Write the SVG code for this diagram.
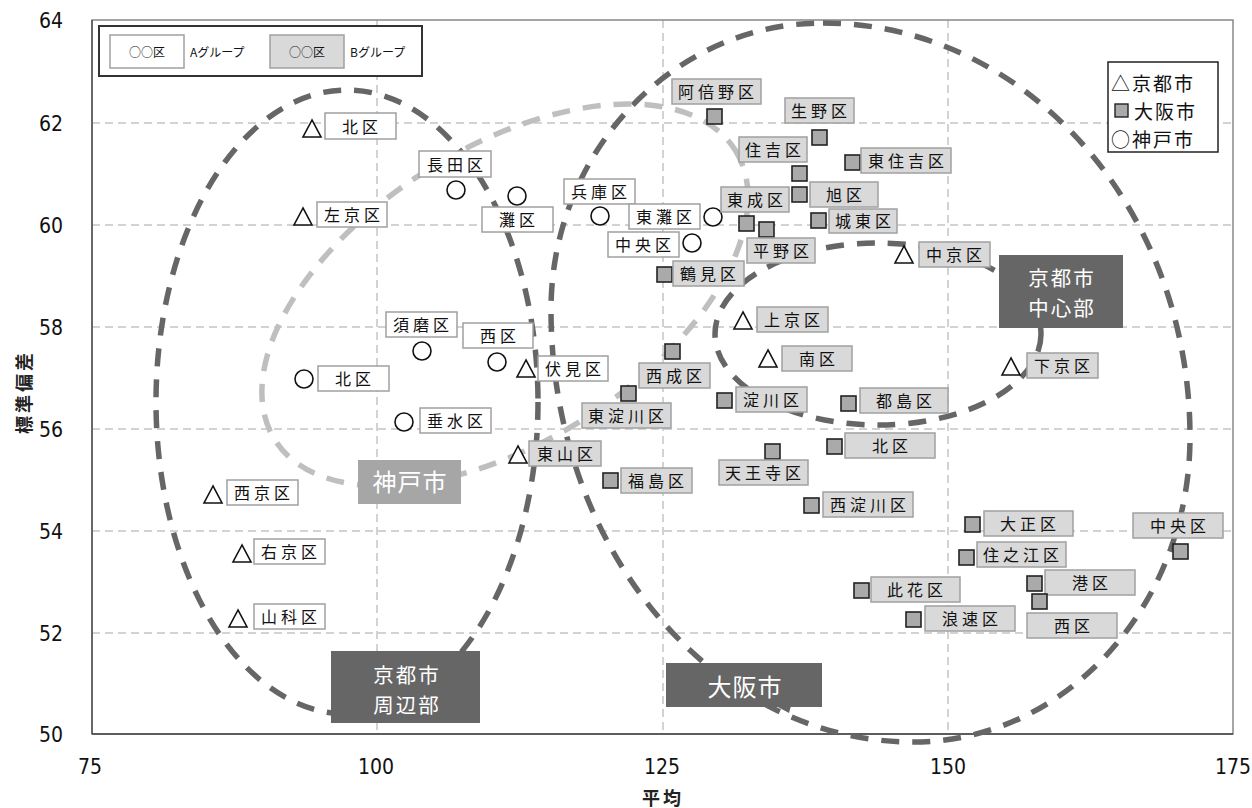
<svg xmlns="http://www.w3.org/2000/svg" width="1252" height="808" viewBox="0 0 1252 808">
<style>
.grid{stroke:#a6a6a6;stroke-width:1;stroke-dasharray:8 5;fill:none}
.dk{fill:none;stroke:#666;stroke-width:5.5;stroke-dasharray:18 13}
.lg{fill:none;stroke:#bfbfbf;stroke-width:5.5;stroke-dasharray:18 13}
.bw{fill:#fff;stroke:#a0a0a0;stroke-width:1.5}
.bg{fill:#d9d9d9;stroke:#a0a0a0;stroke-width:1.5}
.t{font-family:'Noto Sans CJK JP',sans-serif;font-size:16px;letter-spacing:4px;text-anchor:middle;fill:#111}
.tri,.cir{fill:#fff;stroke:#111;stroke-width:1.6}
.sq{fill:#aaa;stroke:#222;stroke-width:1.6}
.rg{fill:#666}
.rt{font-family:'Noto Sans CJK JP',sans-serif;font-size:24px;fill:#fff;text-anchor:middle;letter-spacing:1px}
.rt2{font-family:'Noto Sans CJK JP',sans-serif;font-size:20.5px;fill:#fff;text-anchor:middle;letter-spacing:2px}
.tk{font-family:'Liberation Sans Narrow','DejaVu Sans Condensed','Liberation Sans',sans-serif;font-size:21px;fill:#111}
.ax{font-family:'Noto Sans CJK JP',sans-serif;font-size:18px;font-weight:bold;fill:#222;letter-spacing:3px}
.sm{font-family:'Noto Sans CJK JP',sans-serif;font-size:12px;fill:#111}
.lgt{font-family:'Noto Sans CJK JP',sans-serif;font-size:19px;fill:#111;letter-spacing:2px}
</style>
<rect width="1252" height="808" fill="#fff"/>
<g id="grid">
<line class="grid" x1="377" y1="20" x2="377" y2="734"/>
<line class="grid" x1="663" y1="20" x2="663" y2="734"/>
<line class="grid" x1="948" y1="20" x2="948" y2="734"/>
<line class="grid" x1="92" y1="123" x2="1233" y2="123"/>
<line class="grid" x1="92" y1="225" x2="1233" y2="225"/>
<line class="grid" x1="92" y1="327" x2="1233" y2="327"/>
<line class="grid" x1="92" y1="429" x2="1233" y2="429"/>
<line class="grid" x1="92" y1="531" x2="1233" y2="531"/>
<line class="grid" x1="92" y1="633" x2="1233" y2="633"/>
<rect x="92" y="20" width="1141" height="714" fill="none" stroke="#888" stroke-width="1.5"/>
<line x1="92" y1="20" x2="92" y2="734" stroke="#555" stroke-width="1.5"/>
<line x1="92" y1="734" x2="1233" y2="734" stroke="#444" stroke-width="1.5"/>
</g>
<g id="axes">
<text class="tk" x="63" y="28" text-anchor="end">64</text>
<text class="tk" x="63" y="131" text-anchor="end">62</text>
<text class="tk" x="63" y="233" text-anchor="end">60</text>
<text class="tk" x="63" y="335" text-anchor="end">58</text>
<text class="tk" x="63" y="437" text-anchor="end">56</text>
<text class="tk" x="63" y="539" text-anchor="end">54</text>
<text class="tk" x="63" y="641" text-anchor="end">52</text>
<text class="tk" x="63" y="742" text-anchor="end">50</text>
<text class="tk" x="90" y="774" text-anchor="middle">75</text>
<text class="tk" x="376" y="774" text-anchor="middle">100</text>
<text class="tk" x="662" y="774" text-anchor="middle">125</text>
<text class="tk" x="948" y="774" text-anchor="middle">150</text>
<text class="tk" x="1233" y="774" text-anchor="middle">175</text>
<text class="ax" x="663" y="805" text-anchor="middle">平均</text>
<text class="ax" x="31" y="392" text-anchor="middle" transform="rotate(-90 31 392)">標準偏差</text>
</g>
<g id="connectors">
<ellipse class="dk" cx="347" cy="402" rx="191" ry="312"/>
<path class="dk" d="M823,23 C1026,23 1190,208 1190,437 C1190,605 1066,742 913,742 C713,742 551,548 551,310 C551,152 673,23 823,23 Z"/>
<ellipse class="lg" cx="505" cy="295" rx="272" ry="147" transform="rotate(-32.2 505 295)"/>
<ellipse class="dk" cx="878" cy="334" rx="163" ry="91"/>
</g>
<!-- Kyoto -->
<g id="kyoto-kita"><polygon class="tri" points="312,120 303,137 321,137"/><rect class="bw" x="325" y="113" width="71" height="26"/><text class="t" x="362" y="133">北区</text></g>
<g id="kyoto-sakyo"><polygon class="tri" points="303,208 294,225 312,225"/><rect class="bw" x="317" y="202" width="70" height="25"/><text class="t" x="354" y="221">左京区</text></g>
<g id="kyoto-nishikyo"><polygon class="tri" points="213,486 204,503 222,503"/><rect class="bw" x="227" y="480" width="71" height="25"/><text class="t" x="264" y="499">西京区</text></g>
<g id="kyoto-ukyo"><polygon class="tri" points="242,545 233,562 251,562"/><rect class="bw" x="254" y="539" width="71" height="25"/><text class="t" x="291" y="558">右京区</text></g>
<g id="kyoto-yamashina"><polygon class="tri" points="238,610 229,627 247,627"/><rect class="bw" x="254" y="604" width="71" height="25"/><text class="t" x="291" y="623">山科区</text></g>
<g id="kyoto-fushimi"><polygon class="tri" points="526,360 517,377 535,377"/><rect class="bw" x="538" y="356" width="70" height="25"/><text class="t" x="575" y="375">伏見区</text></g>
<g id="kyoto-higashiyama"><polygon class="tri" points="518,446 509,463 527,463"/><rect class="bg" x="529" y="441" width="72" height="25"/><text class="t" x="567" y="460">東山区</text></g>
<g id="kyoto-kamigyo"><polygon class="tri" points="743,312 734,329 752,329"/><rect class="bg" x="757" y="307" width="71" height="25"/><text class="t" x="794" y="326">上京区</text></g>
<g id="kyoto-minami"><polygon class="tri" points="768,350 759,367 777,367"/><rect class="bg" x="782" y="346" width="70" height="25"/><text class="t" x="819" y="365">南区</text></g>
<g id="kyoto-nakagyo"><polygon class="tri" points="904,246 895,263 913,263"/><rect class="bg" x="919" y="242" width="71" height="25"/><text class="t" x="956" y="261">中京区</text></g>
<g id="kyoto-shimogyo"><polygon class="tri" points="1011,358 1002,375 1020,375"/><rect class="bg" x="1027" y="353" width="71" height="25"/><text class="t" x="1064" y="372">下京区</text></g>
<!-- Kobe -->
<g id="kobe-nagata"><circle class="cir" cx="456" cy="190" r="9"/><rect class="bw" x="419" y="151" width="72" height="26"/><text class="t" x="457" y="171">長田区</text></g>
<g id="kobe-nada"><circle class="cir" cx="517" cy="196" r="9"/><rect class="bw" x="482" y="207" width="71" height="25"/><text class="t" x="519" y="226">灘区</text></g>
<g id="kobe-hyogo"><circle class="cir" cx="600" cy="216" r="9"/><rect class="bw" x="564" y="179" width="71" height="25"/><text class="t" x="601" y="198">兵庫区</text></g>
<g id="kobe-higashinada"><circle class="cir" cx="713" cy="217" r="9"/><rect class="bw" x="629" y="204" width="71" height="25"/><text class="t" x="666" y="223">東灘区</text></g>
<g id="kobe-chuo"><circle class="cir" cx="692" cy="243" r="9"/><rect class="bw" x="608" y="232" width="71" height="25"/><text class="t" x="645" y="251">中央区</text></g>
<g id="kobe-suma"><circle class="cir" cx="422" cy="351" r="9"/><rect class="bw" x="386" y="312" width="71" height="25"/><text class="t" x="423" y="331">須磨区</text></g>
<g id="kobe-nishi"><circle class="cir" cx="497" cy="362" r="9"/><rect class="bw" x="463" y="323" width="70" height="25"/><text class="t" x="500" y="342">西区</text></g>
<g id="kobe-kita"><circle class="cir" cx="304" cy="379" r="9"/><rect class="bw" x="318" y="366" width="71" height="25"/><text class="t" x="355" y="385">北区</text></g>
<g id="kobe-tarumi"><circle class="cir" cx="404" cy="422" r="9"/><rect class="bw" x="420" y="408" width="71" height="25"/><text class="t" x="457" y="427">垂水区</text></g>
<!-- Osaka -->
<g id="osaka-abeno"><rect class="sq" x="707" y="109" width="15" height="15"/><rect class="bg" x="672" y="79" width="89" height="25"/><text class="t" x="718" y="98">阿倍野区</text></g>
<g id="osaka-ikuno"><rect class="sq" x="812" y="130" width="15" height="15"/><rect class="bg" x="785" y="98" width="69" height="25"/><text class="t" x="821" y="117">生野区</text></g>
<g id="osaka-sumiyoshi"><rect class="sq" x="792" y="166" width="15" height="15"/><rect class="bg" x="739" y="137" width="68" height="25"/><text class="t" x="775" y="156">住吉区</text></g>
<g id="osaka-higashisumiyoshi"><rect class="sq" x="845" y="155" width="15" height="15"/><rect class="bg" x="861" y="148" width="90" height="25"/><text class="t" x="908" y="167">東住吉区</text></g>
<g id="osaka-asahi"><rect class="sq" x="792" y="187" width="15" height="15"/><rect class="bg" x="810" y="182" width="68" height="25"/><text class="t" x="846" y="201">旭区</text></g>
<g id="osaka-higashinari"><rect class="sq" x="739" y="216" width="15" height="15"/><rect class="bg" x="721" y="187" width="68" height="25"/><text class="t" x="757" y="206">東成区</text></g>
<g id="osaka-hirano"><rect class="sq" x="759" y="222" width="15" height="15"/><rect class="bg" x="747" y="238" width="68" height="25"/><text class="t" x="783" y="257">平野区</text></g>
<g id="osaka-joto"><rect class="sq" x="811" y="213" width="15" height="15"/><rect class="bg" x="829" y="209" width="68" height="24"/><text class="t" x="865" y="227">城東区</text></g>
<g id="osaka-tsurumi"><rect class="sq" x="657" y="267" width="15" height="15"/><rect class="bg" x="673" y="261" width="71" height="25"/><text class="t" x="710" y="280">鶴見区</text></g>
<g id="osaka-nishinari"><rect class="sq" x="665" y="344" width="15" height="15"/><rect class="bg" x="639" y="363" width="71" height="25"/><text class="t" x="676" y="382">西成区</text></g>
<g id="osaka-higashiyodogawa"><rect class="sq" x="621" y="386" width="15" height="15"/><rect class="bg" x="582" y="403" width="89" height="25"/><text class="t" x="628" y="422">東淀川区</text></g>
<g id="osaka-yodogawa"><rect class="sq" x="717" y="393" width="15" height="15"/><rect class="bg" x="736" y="387" width="71" height="25"/><text class="t" x="773" y="406">淀川区</text></g>
<g id="osaka-miyakojima"><rect class="sq" x="841" y="396" width="15" height="15"/><rect class="bg" x="860" y="388" width="88" height="25"/><text class="t" x="906" y="407">都島区</text></g>
<g id="osaka-kita"><rect class="sq" x="827" y="439" width="15" height="15"/><rect class="bg" x="845" y="433" width="90" height="25"/><text class="t" x="892" y="452">北区</text></g>
<g id="osaka-tennoji"><rect class="sq" x="765" y="444" width="15" height="15"/><rect class="bg" x="719" y="460" width="89" height="25"/><text class="t" x="765" y="479">天王寺区</text></g>
<g id="osaka-fukushima"><rect class="sq" x="603" y="473" width="15" height="15"/><rect class="bg" x="621" y="468" width="71" height="25"/><text class="t" x="658" y="487">福島区</text></g>
<g id="osaka-nishiyodogawa"><rect class="sq" x="804" y="498" width="15" height="15"/><rect class="bg" x="823" y="492" width="90" height="25"/><text class="t" x="870" y="511">西淀川区</text></g>
<g id="osaka-taisho"><rect class="sq" x="965" y="517" width="15" height="15"/><rect class="bg" x="984" y="511" width="89" height="25"/><text class="t" x="1030" y="530">大正区</text></g>
<g id="osaka-suminoe"><rect class="sq" x="959" y="550" width="15" height="15"/><rect class="bg" x="977" y="542" width="89" height="25"/><text class="t" x="1023" y="561">住之江区</text></g>
<g id="osaka-chuo"><rect class="sq" x="1173" y="544" width="15" height="15"/><rect class="bg" x="1133" y="513" width="90" height="25"/><text class="t" x="1180" y="532">中央区</text></g>
<g id="osaka-minato"><rect class="sq" x="1027" y="576" width="15" height="15"/><rect class="bg" x="1045" y="570" width="90" height="25"/><text class="t" x="1092" y="589">港区</text></g>
<g id="osaka-nishi"><rect class="sq" x="1032" y="594" width="15" height="15"/><rect class="bg" x="1027" y="613" width="90" height="25"/><text class="t" x="1074" y="632">西区</text></g>
<g id="osaka-konohana"><rect class="sq" x="854" y="583" width="15" height="15"/><rect class="bg" x="871" y="577" width="89" height="25"/><text class="t" x="917" y="596">此花区</text></g>
<g id="osaka-naniwa"><rect class="sq" x="906" y="612" width="15" height="15"/><rect class="bg" x="925" y="606" width="90" height="25"/><text class="t" x="972" y="625">浪速区</text></g>
<!-- region labels -->
<g id="region-kyoto-center"><rect class="rg" x="999" y="255" width="124" height="73"/><text class="rt2" x="1062" y="286">京都市</text><text class="rt2" x="1062" y="316">中心部</text></g>
<g id="region-kyoto-outer"><rect class="rg" x="331" y="651" width="149" height="72"/><text class="rt2" x="407" y="683">京都市</text><text class="rt2" x="407" y="713">周辺部</text></g>
<g id="region-osaka"><rect class="rg" x="666" y="663" width="156" height="44"/><polygon class="rg" points="776,706 791,706 789,713"/><text class="rt" x="745" y="696">大阪市</text></g>
<g id="region-kobe"><rect x="358" y="460" width="103" height="44" fill="#a6a6a6"/><text class="rt" x="410" y="491">神戸市</text></g>
<!-- legends -->
<g id="legend-group">
<rect x="99" y="26" width="323" height="50" fill="#fff" stroke="#333" stroke-width="2"/>
<rect class="bw" x="110" y="35" width="74" height="33"/>
<text class="sm" x="147" y="57" text-anchor="middle">○○区</text>
<text class="sm" x="190" y="57">Aグループ</text>
<rect class="bg" x="270" y="35" width="74" height="33"/>
<text class="sm" x="307" y="57" text-anchor="middle">○○区</text>
<text class="sm" x="350" y="57">Bグループ</text>
</g>
<g id="legend-city">
<rect x="1108" y="62" width="110" height="90" fill="#fff" stroke="#222" stroke-width="1.5"/>
<text class="lgt" x="1111" y="91">△京都市</text>
<rect x="1115" y="104" width="13" height="13" fill="#aaa" stroke="#222" stroke-width="1.4"/>
<text class="lgt" x="1134" y="119">大阪市</text>
<text class="lgt" x="1111" y="147">○神戸市</text>
</g>
</svg>
